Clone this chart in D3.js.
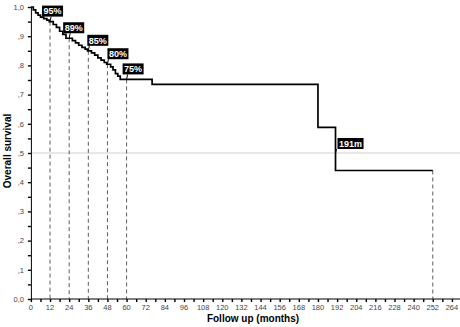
<!DOCTYPE html>
<html>
<head>
<meta charset="utf-8">
<script src="https://cdn.jsdelivr.net/npm/d3@7"></script>
<style>
  html, body { margin: 0; padding: 0; background: #fff; }
  svg { display: block; }
</style>
</head>
<body>
<svg id="chart" width="460" height="327"></svg>
<script>
// ---- data ----
const eventMonths = [0, 1.5, 3, 4.5, 6, 8, 10, 11.5, 14, 16, 18, 20, 22, 26, 28, 30, 32, 34, 35.5, 38, 40, 42, 44, 46, 47.5, 50, 51.5, 53, 54.5, 56, 76, 180, 191];
const survival    = [1, 0.99, 0.98, 0.972, 0.965, 0.96, 0.955, 0.95, 0.94, 0.93, 0.917, 0.906, 0.893, 0.885, 0.877, 0.869, 0.862, 0.856, 0.85, 0.843, 0.835, 0.826, 0.818, 0.81, 0.804, 0.795, 0.785, 0.772, 0.763, 0.752, 0.735, 0.588, 0.44];
const lastFollowUp = 252;
const markMonths = [12, 24, 36, 48, 60];
const markLabels = ["95%", "89%", "85%", "80%", "75%"];
const medianMonth = 191;
const medianLabel = "191m";
const medianLevel = 0.5;
const xTicks = d3.range(0, 265, 12);
const xMinorTicks = d3.range(0, 271, 6);
const yTicks = [0, 0.1, 0.2, 0.3, 0.4, 0.5, 0.6, 0.7, 0.8, 0.9, 1.0];
const yTickLabels = ["0,0", ",1", ",2", ",3", ",4", ",5", ",6", ",7", ",8", ",9", "1,0"];
const yMinorTicks = d3.range(0, 1.001, 0.05);
const xTitle = "Follow up (months)";
const yTitle = "Overall survival";

// ---- layout ----
const labelDx = [-8, -6, -1, 0, -4];
const svg = d3.select("#chart");
const x = d3.scaleLinear().domain([0, 270]).range([30.9, 461.5]);
const y = d3.scaleLinear().domain([0, 1]).range([299, 7]);
const font = "'Liberation Sans', Arial, sans-serif";

function survAt(t) {
  let s = survival[0];
  for (let i = 0; i < eventMonths.length; i++) if (eventMonths[i] <= t) s = survival[i];
  return s;
}

// 0.5 reference line
svg.append("line")
  .attr("x1", x(0)).attr("x2", 460)
  .attr("y1", y(medianLevel)).attr("y2", y(medianLevel))
  .attr("stroke", "#d0d0d0").attr("stroke-width", 1);

// axes
const xAxisG = svg.append("g").attr("transform", `translate(0,${y(0)})`);
xAxisG.call(d3.axisBottom(x).tickValues(xMinorTicks).tickSize(3).tickFormat(""));
xAxisG.call(g => g.select(".domain").remove());
xAxisG.append("line").attr("x1", x(0)).attr("x2", 460).attr("stroke", "#000").attr("stroke-width", 1);
xAxisG.selectAll(".tick line").attr("stroke", "#000").attr("stroke-width", 1.4);
xAxisG.selectAll(".xlab").data(xTicks).enter().append("text")
  .attr("x", d => x(d)).attr("y", 11)
  .attr("text-anchor", "middle")
  .attr("font-family", font).attr("font-size", 7.5).attr("fill", "#444")
  .text(d => d);

const yAxisG = svg.append("g").attr("transform", `translate(${x(0)},0)`);
yAxisG.call(d3.axisLeft(y).tickValues(yMinorTicks).tickSize(3).tickFormat(""));
yAxisG.select(".domain").attr("stroke", "#000").attr("stroke-width", 1);
yAxisG.selectAll(".tick line").attr("stroke", "#000").attr("stroke-width", 1.4);
yAxisG.selectAll(".ylab").data(yTicks).enter().append("text")
  .attr("x", -7).attr("y", d => y(d) + 2.7)
  .attr("text-anchor", "end")
  .attr("font-family", font).attr("font-size", 7.5).attr("fill", "#444")
  .text((d, i) => yTickLabels[i]);

// titles
svg.append("text")
  .attr("x", 253).attr("y", 322)
  .attr("text-anchor", "middle")
  .attr("font-family", font).attr("font-weight", "bold").attr("font-size", 10)
  .text(xTitle);
svg.append("text")
  .attr("transform", `translate(11,151) rotate(-90)`)
  .attr("text-anchor", "middle")
  .attr("font-family", font).attr("font-weight", "bold").attr("font-size", 10)
  .text(yTitle);

// dashed drop lines
markMonths.forEach(m => {
  svg.append("line")
    .attr("x1", x(m)).attr("x2", x(m))
    .attr("y1", y(survAt(m))).attr("y2", y(0))
    .attr("stroke", "#333").attr("stroke-width", 0.8).attr("stroke-dasharray", "4,3");
});
svg.append("line")
  .attr("x1", x(lastFollowUp)).attr("x2", x(lastFollowUp))
  .attr("y1", y(survAt(lastFollowUp))).attr("y2", y(0))
  .attr("stroke", "#333").attr("stroke-width", 0.8).attr("stroke-dasharray", "4,3");

// KM step curve
const pts = eventMonths.map((t, i) => [t, survival[i]]);
pts.push([lastFollowUp, survival[survival.length - 1]]);
const line = d3.line().x(d => x(d[0])).y(d => y(d[1])).curve(d3.curveStepAfter);
svg.append("path").datum(pts)
  .attr("d", line)
  .attr("fill", "none").attr("stroke", "#000").attr("stroke-width", 1.7);

// callout labels
function callout(px, py, label, dx, dy) {
  const g = svg.append("g");
  const t = g.append("text")
    .attr("font-family", font).attr("font-weight", "bold").attr("font-size", 9)
    .attr("fill", "#fff").text(label);
  const w = t.node().getComputedTextLength() + 3;
  const h = 11;
  const bx = px + dx, by = py + dy - h;
  g.insert("line", "text")
    .attr("x1", px).attr("y1", py).attr("x2", px + 1).attr("y2", py + dy)
    .attr("stroke", "#000").attr("stroke-width", 1);
  g.insert("rect", "text")
    .attr("x", bx).attr("y", by).attr("width", w).attr("height", h)
    .attr("fill", "#000");
  t.attr("x", bx + 1.5).attr("y", by + 8.8);
}
markMonths.forEach((m, i) => {
  callout(x(m), y(survAt(m)), markLabels[i], labelDx[i], -5);
});
callout(x(medianMonth), y(medianLevel), medianLabel, 2, -4);
</script>
</body>
</html>
